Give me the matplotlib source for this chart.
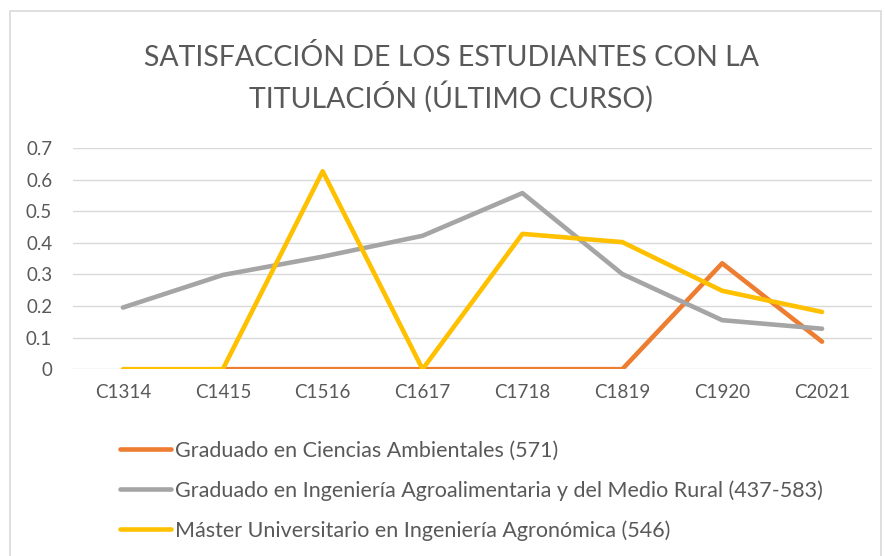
import matplotlib.pyplot as plt
import numpy as np
from matplotlib.patches import Rectangle

plt.rcParams["font.family"] = ["Lato", "DejaVu Sans"]

cursos = ["C1314", "C1415", "C1516", "C1617", "C1718", "C1819", "C1920", "C2021"]
ciencias_ambientales = [np.nan, 0, 0, 0, 0, 0, 0.335, 0.087]
ing_agroalimentaria = [0.195, 0.298, 0.356, 0.422, 0.557, 0.301, 0.155, 0.128]
master_agronomica = [0, 0, 0.626, 0, 0.428, 0.402, 0.248, 0.181]

nombres = [
    "Graduado en Ciencias Ambientales (571)",
    "Graduado en Ingeniería Agroalimentaria y del Medio Rural (437-583)",
    "Máster Universitario en Ingeniería Agronómica (546)",
]
colores = ["#ed7d31", "#a5a5a5", "#ffc000"]

fig = plt.figure(figsize=(8.85, 5.56), dpi=100)
fig.patches.append(Rectangle((0.011, -0.01), 0.984, 0.99, transform=fig.transFigure,
                             fill=False, edgecolor="#d9d9d9", linewidth=1.2))

ax = fig.add_axes([0.0825, 0.336, 0.9028, 0.398])
x = np.arange(len(cursos))
for serie, nombre, color in zip([ciencias_ambientales, ing_agroalimentaria, master_agronomica],
                                nombres, colores):
    ax.plot(x, serie, color=color, linewidth=3.3, label=nombre, solid_capstyle="round")

ax.set_xlim(-0.5, len(cursos) - 0.5)
ax.set_ylim(0, 0.7)
ax.set_yticks(np.arange(0, 0.71, 0.1))
ax.set_yticklabels(["0", "0.1", "0.2", "0.3", "0.4", "0.5", "0.6", "0.7"])
ax.set_xticks(x)
ax.set_xticklabels(cursos)
ax.grid(axis="y", color="#d9d9d9", linewidth=1)
ax.set_axisbelow(True)
for s in ax.spines.values():
    s.set_visible(False)
ax.tick_params(length=0, labelsize=13.5, labelcolor="#595959", pad=11)
ax.tick_params(axis="y", pad=15)

fig.text(0.51, 0.859, "SATISFACCIÓN DE LOS ESTUDIANTES CON LA\nTITULACIÓN (ÚLTIMO CURSO)",
         ha="center", va="center", fontsize=20.5, color="#595959", linespacing=1.35)

fig.legend(loc="upper left", bbox_to_anchor=(0.1255, 0.223), frameon=False,
           fontsize=15.5, labelcolor="#595959", handlelength=2.4, handletextpad=0.15,
           labelspacing=0.9, borderaxespad=0)

fig.savefig("out.png", dpi=100)
